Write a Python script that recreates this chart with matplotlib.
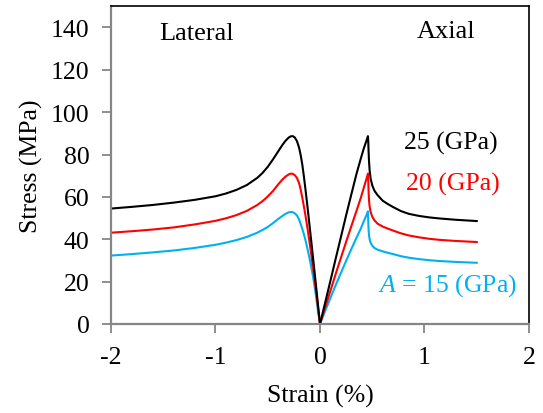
import matplotlib
matplotlib.use('Agg')
import matplotlib.pyplot as plt

plt.rcParams['font.family'] = ['Liberation Serif', 'DejaVu Serif']
plt.rcParams['mathtext.fontset'] = 'custom'
plt.rcParams['mathtext.rm'] = 'Liberation Serif'
plt.rcParams['mathtext.it'] = 'Liberation Serif:italic'

# lateral branch (negative strain), shared strain points for all three moduli
lat_strain = [-2.0, -1.8, -1.6, -1.4, -1.2, -1.0, -0.9, -0.8, -0.7, -0.6, -0.55, -0.5,
              -0.45, -0.4, -0.36, -0.33, -0.30, -0.28, -0.26, -0.24, -0.22, -0.20,
              -0.185, -0.17, -0.155, -0.14, -0.12, -0.10, -0.08, -0.06, -0.04, -0.02, 0.0]
lat_25 = [54.5, 55.3, 56.2, 57.3, 58.6, 60.3, 61.6, 63.3, 65.6, 69.0, 71.3, 74.2,
          77.7, 81.5, 84.5, 86.5, 88.0, 88.6, 88.7, 88.0, 86.3, 83.2,
          79.8, 75.5, 70.0, 64.0, 55.5, 46.5, 37.5, 28.3, 19.0, 9.5, 0.0]
lat_20 = [43.1, 43.8, 44.6, 45.6, 47.0, 48.7, 49.9, 51.4, 53.4, 56.2, 58.0, 60.2,
          62.8, 65.9, 68.2, 69.6, 70.6, 71.0, 70.9, 70.2, 68.9, 66.5,
          63.5, 59.8, 55.8, 51.5, 45.3, 38.6, 31.5, 24.3, 16.5, 8.3, 0.0]
lat_15 = [32.3, 33.0, 33.8, 34.7, 35.9, 37.4, 38.4, 39.6, 41.1, 43.1, 44.4, 45.8,
          47.6, 49.6, 51.0, 52.0, 52.7, 52.9, 52.8, 52.2, 51.2, 49.3,
          47.2, 45.0, 42.5, 39.8, 35.5, 31.0, 26.0, 20.5, 13.8, 6.5, 0.0]

# axial branch (positive strain)
ax_strain = [0.0, 0.05, 0.1, 0.15, 0.2, 0.25, 0.3, 0.35, 0.39, 0.42, 0.445, 0.459,
             0.462, 0.465, 0.469, 0.475, 0.485, 0.5, 0.52, 0.55, 0.6, 0.65, 0.7,
             0.775, 0.85, 0.95, 1.05, 1.15, 1.3, 1.5]
ax_25 = [0.0, 10.2, 20.4, 30.8, 41.0, 51.3, 61.2, 71.0, 78.0, 83.0, 86.6, 88.7,
         86.0, 81.5, 77.0, 72.5, 68.5, 65.5, 63.0, 60.9, 58.2, 56.6, 55.2,
         53.3, 52.0, 51.0, 50.3, 49.8, 49.2, 48.6]
ax_20 = [0.0, 7.9, 15.7, 23.6, 31.2, 38.8, 46.2, 53.5, 59.5, 64.5, 68.6, 71.0,
         67.5, 62.5, 58.5, 55.5, 52.8, 50.7, 49.0, 47.4, 46.0, 45.0, 44.1,
         42.8, 41.8, 40.9, 40.2, 39.7, 39.2, 38.7]
ax_15 = [0.0, 6.2, 12.3, 18.3, 24.1, 29.8, 35.4, 40.8, 45.0, 48.6, 51.4, 53.2,
         48.5, 44.5, 42.0, 40.0, 38.3, 37.0, 35.9, 35.1, 34.3, 33.6, 33.0,
         32.0, 31.3, 30.6, 30.1, 29.7, 29.3, 28.9]

labels = ['$A$ = 15 (GPa)', '20 (GPa)', '25 (GPa)']
colors = ['#00B0F0', '#FF0000', '#000000']
label_pos = [(1.22, 18.5), (1.27, 66.5), (1.25, 85.5)]

fig = plt.figure(figsize=(5.43, 4.14), dpi=100)
ax = fig.add_axes([0.2044, 0.215, 0.7698, 0.7674])

for lat, axl, c in zip([lat_15, lat_20, lat_25], [ax_15, ax_20, ax_25], colors):
    ax.plot(lat_strain, lat, color=c, lw=1.5, solid_joinstyle='round')
    ax.plot(ax_strain, axl, color=c, lw=1.5, solid_joinstyle='round')

for txt, c, (x, y) in zip(labels, colors, label_pos):
    ax.text(x, y, txt, color=c, fontsize=18.5, ha='center', va='center')

ax.text(-1.18, 137.5, 'Lateral', fontsize=19, ha='center', va='center')
ax.text(1.21, 138.5, 'Axial', fontsize=19, ha='center', va='center')

ax.set_xlim(-2, 2)
ax.set_ylim(0, 150)
ax.set_xticks([-2, -1, 0, 1, 2])
ax.set_xticklabels(['-2', '-1', '0', '1', '2'])
ax.set_yticks(range(0, 141, 20))

for s in ['left', 'bottom']:
    ax.spines[s].set_color('#868686')
    ax.spines[s].set_linewidth(1.6)
for s in ['top', 'right']:
    ax.spines[s].set_color('black')
    ax.spines[s].set_linewidth(1.2)

ax.tick_params(direction='out', length=6.5, width=1.3, color='#868686',
               labelsize=18.5, pad=9, top=False, right=False)

ax.set_xlabel('Strain (%)', fontsize=18.5, labelpad=12)
ax.set_ylabel('Stress (MPa)', fontsize=18.5, labelpad=6)

fig.savefig('out.png', dpi=100)
